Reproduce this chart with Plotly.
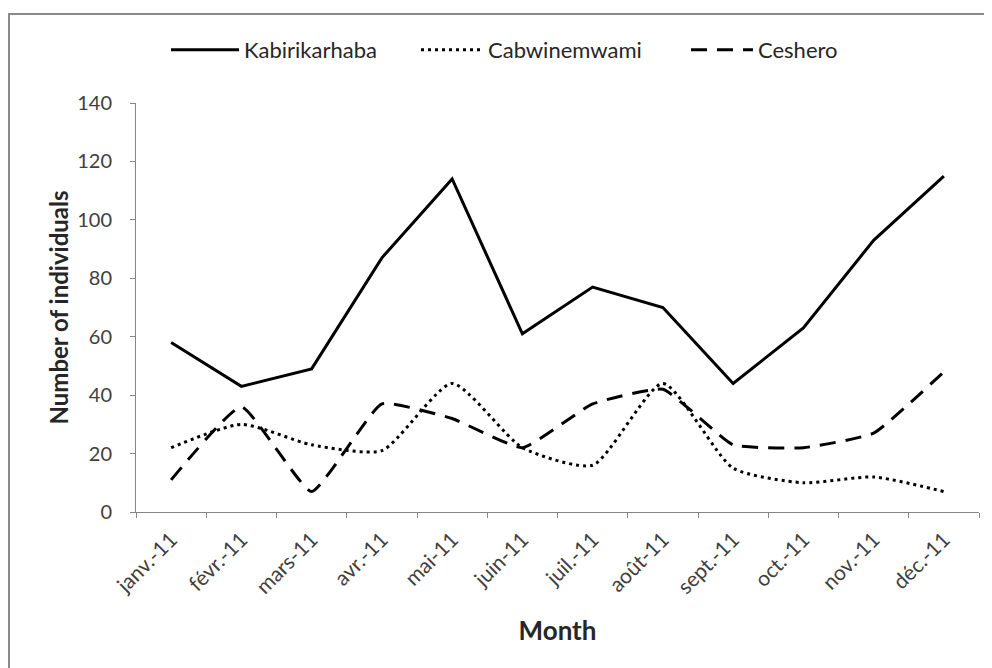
import plotly.graph_objects as go

months = ["janv.-11", "févr.-11", "mars-11", "avr.-11", "mai-11", "juin-11",
          "juil.-11", "août-11", "sept.-11", "oct.-11", "nov.-11", "déc.-11"]
kabirikarhaba = [58, 43, 49, 87, 114, 61, 77, 70, 44, 63, 93, 115]
cabwinemwami = [22, 30, 23, 21, 44, 22, 16, 44, 15, 10, 12, 7]
ceshero = [11, 36, 7, 37, 32, 22, 37, 42, 23, 22, 27, 48]
y_ticks = [0, 20, 40, 60, 80, 100, 120, 140]

W, H = 992, 668
ML, MR, MT, MB = 128, 21, 95, 164
FONT = "Lato"

fig = go.Figure()
fig.add_trace(go.Scatter(x=months, y=kabirikarhaba, name="Kabirikarhaba", mode="lines",
                         legend="legend",
                         line=dict(color="black", width=3)))
fig.add_trace(go.Scatter(x=months, y=cabwinemwami, name="Cabwinemwami", mode="lines",
                         legend="legend2",
                         line=dict(color="black", width=3, dash="3px,4px", shape="spline", smoothing=0.6)))
fig.add_trace(go.Scatter(x=months, y=ceshero, name="Ceshero", mode="lines",
                         legend="legend3",
                         line=dict(color="black", width=3, dash="16px,10px", shape="spline", smoothing=0.4)))

pw = W - ML - MR
ph = H - MT - MB
fig.add_shape(type="rect", xref="paper", yref="paper",
              x0=(1 - ML) / pw, x1=1 + 60 / pw,
              y0=-(MB + 40) / ph, y1=1 + (MT - 6) / ph,
              line=dict(color="#8a8a8a", width=2), fillcolor="rgba(0,0,0,0)", layer="below")


def legend_at(x_px, sym_w):
    return dict(orientation="h", xref="container", yref="container",
                x=x_px / W, xanchor="left", y=1 - 42 / H, yanchor="middle",
                font=dict(family=FONT, size=22, color="#262626"),
                itemwidth=sym_w, bgcolor="rgba(0,0,0,0)")


fig.update_layout(
    width=W, height=H,
    margin=dict(l=ML, r=MR, t=MT, b=MB),
    paper_bgcolor="white", plot_bgcolor="white",
    font=dict(family=FONT, color="#404040", size=16),
    showlegend=True,
    legend=legend_at(158, 68),
    legend2=legend_at(408, 62),
    legend3=legend_at(678, 62),
    xaxis=dict(type="category", range=[-0.5, 11.5], showline=True, linecolor="#868686", linewidth=1,
               ticks="outside", tickson="boundaries", ticklen=5, tickcolor="#868686",
               tickangle=-45, showgrid=False, zeroline=False, ticklabelstandoff=6,
               tickfont=dict(family=FONT, size=21, color="#404040"),
               title=dict(text="<b>Month</b>", font=dict(family=FONT, size=26, color="#262626"), standoff=24)),
    yaxis=dict(range=[0, 140], tickvals=y_ticks, showline=True, linecolor="#868686", linewidth=1,
               ticks="outside", ticklen=5, tickcolor="#868686", showgrid=False, zeroline=False,
               ticklabelstandoff=14,
               tickfont=dict(family=FONT, size=20, color="#404040"),
               title=dict(text="<b>Number of individuals</b>", font=dict(family=FONT, size=24, color="#262626"), standoff=1)),
)

fig.write_html("out.html")
